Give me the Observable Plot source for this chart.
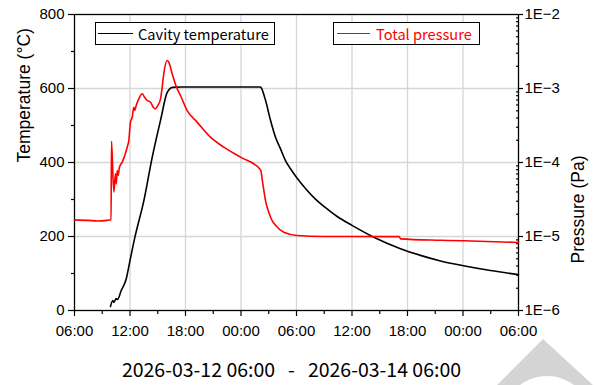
<!DOCTYPE html>
<html><head><meta charset="utf-8">
<script src="https://cdn.jsdelivr.net/npm/d3@7"></script>
<script src="https://cdn.jsdelivr.net/npm/@observablehq/plot@0.6"></script>
<style>
body{margin:0;background:#fff;}
#wrap{position:relative;width:594px;height:385px;overflow:hidden;background:#fff;}
#wrap > svg{position:absolute;left:0;top:0;}
.legend{position:absolute;border:1px solid #000;background:#fff;box-sizing:border-box;height:23px;top:22px;
  font-family:"Noto Sans CJK JP","Noto Sans",sans-serif;font-size:14.6px;line-height:21px;white-space:nowrap;}
.legend .sw{position:absolute;top:10px;height:0;border-top:1.5px solid #000;}
.legend .tx{position:absolute;top:0;}
#title{position:absolute;left:0;width:583px;top:354px;text-align:center;font-family:"Noto Sans CJK JP","Noto Sans",sans-serif;font-size:19.5px;white-space:pre;color:#000;}
#title .sep{margin:0 13px;}
</style></head>
<body><div id="wrap"></div>
<script>
// ---- data (hours after 2026-03-12 06:00 UTC) ----
const tempHours = [3.89, 4.14, 4.25, 4.51, 4.65, 5.05, 5.59, 6.0, 6.5, 7.5, 8.4, 9.3, 10.0, 10.3, 10.6, 11.5, 15.0, 20.1, 20.18, 20.65, 21.19, 21.73, 22.27, 22.81, 23.35, 24.03, 24.97, 26.05, 27.14, 28.4, 30.0, 32.36, 35.24, 37.4, 39.57, 42.05, 44.97, 48.0];
const tempValues = [11, 27, 22, 32, 30, 54, 85, 135, 195, 297, 414, 514, 588, 599, 603, 604, 604, 604, 602, 568, 514, 468, 437, 405, 383, 359, 330, 301, 278, 254, 230, 198, 167, 149, 134, 121, 108, 97];

const pressHours = [0, 1.5, 2.5, 3.5, 3.95, 4.0, 4.25, 4.43, 4.51, 4.62, 4.72, 4.86, 5.16, 5.70, 5.87, 6.05, 6.24, 6.41, 6.52, 6.67, 6.95, 7.32, 7.57, 7.86, 8.22, 8.51, 8.76, 9.01, 9.30, 9.48, 9.65, 10.02, 10.19, 10.56, 11.03, 11.46, 12.18, 13.26, 14.70, 16.14, 17.95, 20.11, 20.36, 20.65, 21.0, 21.37, 21.73, 22.63, 24.07, 26.96, 30.0, 35.1, 35.25, 39.57, 42.05, 48.0];
const pressValues = [1.68e-5, 1.65e-5, 1.62e-5, 1.65e-5, 1.68e-5, 1.94e-4, 3.97e-5, 7.03e-5, 5.15e-5, 7.80e-5, 6.67e-5, 8.64e-5, 1.01e-4, 1.61e-4, 1.98e-4, 3.51e-4, 4.09e-4, 5.59e-4, 5.04e-4, 5.89e-4, 7.26e-4, 8.48e-4, 7.63e-4, 6.88e-4, 6.53e-4, 5.59e-4, 5.32e-4, 5.89e-4, 7.26e-4, 1.04e-3, 1.58e-3, 2.39e-3, 2.27e-3, 1.58e-3, 1.04e-3, 8.04e-4, 5.04e-4, 3.51e-4, 2.20e-4, 1.61e-4, 1.18e-4, 8.0e-5, 5.15e-5, 3.06e-5, 2.13e-5, 1.64e-5, 1.42e-5, 1.14e-5, 1.03e-5, 1.00e-5, 1.00e-5, 9.95e-6, 9.3e-6, 8.9e-6, 8.75e-6, 8.3e-6];

const xMajorHours = [0, 6, 12, 18, 24, 30, 36, 42, 48];
const xMinorHours = [3, 9, 15, 21, 27, 33, 39, 45];
const xGridHours = [6, 12, 18, 24, 30, 36, 42];
const tempTicks = [0, 200, 400, 600, 800];
const tempMinor = [100, 300, 500, 700];
const tempGrid = [200, 400, 600];
const pressTicks = [1e-6, 1e-5, 1e-4, 1e-3, 1e-2];
const pressMinorMult = [2, 3, 4, 5, 6, 7, 8, 9];
const pressDecades = [1e-6, 1e-5, 1e-4, 1e-3];

const titleStart = "2026-03-12 06:00";
const titleSep = "-";
const titleEnd = "2026-03-14 06:00";
const tempLabel = "Temperature (\u00b0C)";
const pressLabel = "Pressure (Pa)";
const legendTemp = "Cavity temperature";
const legendPress = "Total pressure";

// ---- build ----
const t0 = Date.UTC(2026, 2, 12, 6);
const toDate = h => new Date(t0 + h * 3600e3);
const tempData = tempHours.map((h, i) => ({t: toDate(h), v: tempValues[i]}));
const pressData = pressHours.map((h, i) => ({t: toDate(h), v: pressValues[i]}));
const pressMinor = pressDecades.flatMap(d => pressMinorMult.map(k => k * d));

const W = 594, H = 385;
const M = {marginLeft: 74, marginRight: 76, marginTop: 14, marginBottom: 75};
const xOpt = {type: "utc", domain: [toDate(0), toDate(48)]};
const F = "'Liberation Sans', Arial, sans-serif";

const tempPlot = Plot.plot({
  width: W, height: H, ...M,
  style: {background: "transparent", fontFamily: F, fontSize: "14px", overflow: "visible", color: "#000"},
  x: xOpt,
  y: {domain: [0, 800]},
  marks: [
    Plot.gridX({ticks: xGridHours.map(toDate), stroke: "#d6d6d6", strokeOpacity: 1, strokeWidth: 1.3}),
    Plot.gridY({ticks: tempGrid, stroke: "#d6d6d6", strokeOpacity: 1, strokeWidth: 1.3}),
    Plot.axisX({ticks: xMajorHours.map(toDate), tickSize: 6, tickPadding: 9, fontSize: 15, fontFamily: F, label: null,
      tickFormat: d3.utcFormat("%H:%M"), strokeWidth: 1.2}),
    Plot.axisX({ticks: xMinorHours.map(toDate), tickSize: 4, tickFormat: () => "", label: null, strokeWidth: 1.2}),
    Plot.axisY({ticks: tempTicks, tickSize: 6, tickPadding: 4, fontSize: 15, fontFamily: F, label: null, strokeWidth: 1.2}),
    Plot.axisY({ticks: tempMinor, tickSize: 3, tickFormat: () => "", label: null, strokeWidth: 1.2}),
    Plot.text([tempLabel], {frameAnchor: "left", dx: -50, rotate: -90, fontSize: 17.5, fontFamily: F}),
    Plot.line(tempData, {x: "t", y: "v", stroke: "#000", strokeWidth: 1.6, curve: "monotone-x"}),
    Plot.frame({stroke: "#000", strokeWidth: 1.3})
  ]
});

const pressPlot = Plot.plot({
  width: W, height: H, ...M,
  style: {background: "transparent", fontFamily: F, fontSize: "14px", overflow: "visible", color: "#000"},
  x: {...xOpt, axis: null},
  y: {type: "log", domain: [1e-6, 1e-2], axis: null},
  marks: [
    Plot.axisY({anchor: "right", ticks: pressTicks, tickSize: 4, tickPadding: 2, fontSize: 15, fontFamily: F, label: null, strokeWidth: 1.2,
      tickFormat: d => "1E\u2212" + Math.round(-Math.log10(d))}),
    Plot.axisY({anchor: "right", ticks: pressMinor, tickSize: -3, tickFormat: () => "", label: null, strokeWidth: 1.2}),
    Plot.text([pressLabel], {frameAnchor: "right", dx: 60, dy: -7, rotate: -90, fontSize: 17.5, fontFamily: F}),
    Plot.line(pressData, {x: "t", y: "v", stroke: "#ff0000", strokeWidth: 1.6, curve: "monotone-x"})
  ]
});

const wrap = document.getElementById("wrap");
wrap.append(tempPlot, pressPlot);

// legend boxes
function legend(left, width, swL, swW, txL, color, text) {
  const d = document.createElement("div");
  d.className = "legend";
  d.style.left = left + "px"; d.style.width = width + "px";
  const s = document.createElement("div"); s.className = "sw";
  s.style.left = swL + "px"; s.style.width = swW + "px"; s.style.borderTopColor = color;
  const t = document.createElement("div"); t.className = "tx";
  t.style.left = txL + "px"; t.style.color = color; t.textContent = text;
  d.append(s, t); wrap.append(d);
}
legend(95, 180, 2, 35, 42, "#000", legendTemp);
legend(333, 147, 3, 33, 42, "#ff0000", legendPress);

// decoration triangle (bottom-right)
const ns = "http://www.w3.org/2000/svg";
const deco = document.createElementNS(ns, "svg");
deco.setAttribute("width", W); deco.setAttribute("height", H);
deco.innerHTML = '<polygon points="543,339 497,385 594,385 594,386" fill="#d4d4d4"/><circle cx="547" cy="421" r="45" fill="#fff"/>';
wrap.prepend(deco);

const title = document.createElement("div");
title.id = "title";
const s1 = document.createElement("span"); s1.textContent = titleStart;
const s2 = document.createElement("span"); s2.className = "sep"; s2.textContent = titleSep;
const s3 = document.createElement("span"); s3.textContent = titleEnd;
title.append(s1, s2, s3);
wrap.append(title);
</script>
</body></html>
